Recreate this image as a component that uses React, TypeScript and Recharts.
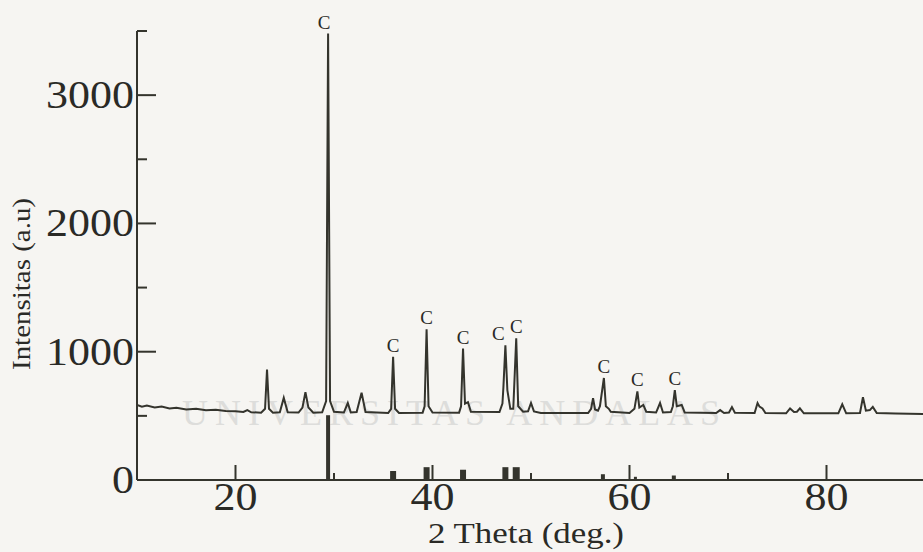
import React from 'react';
import { ComposedChart, Line, XAxis, YAxis, ReferenceLine, ReferenceDot, Label } from 'recharts';

// XRD trace (2θ in degrees, intensity in a.u.)
const twoTheta = [
  10.0, 10.5, 11.0, 11.8, 12.5, 13.3, 14.0, 15.0, 16.0, 17.0, 18.0, 19.0, 20.0, 20.8, 21.2, 21.6,
  22.6, 23.0, 23.2, 23.4, 23.8, 24.5, 24.9, 25.3, 26.4, 26.8, 27.1, 27.4, 27.9, 28.8, 29.2, 29.4,
  29.6, 30.0, 31.0, 31.4, 31.7, 32.3, 32.8, 33.2, 35.5, 35.8, 36.0, 36.2, 36.6, 39.0, 39.2, 39.4,
  39.6, 40.0, 42.7, 42.9, 43.1, 43.3, 43.6, 43.9, 46.8, 47.1, 47.2, 47.4, 47.6, 47.9, 48.2, 48.5,
  48.7, 49.2, 49.7, 50.0, 50.3, 51.0, 55.8, 56.1, 56.3, 56.5, 56.8, 57.0, 57.4, 57.6, 57.9, 58.1,
  60.0, 60.5, 60.8, 61.0, 61.4, 61.7, 62.7, 63.1, 63.4, 64.2, 64.4, 64.6, 64.8, 65.3, 65.6, 68.8,
  69.2, 69.6, 70.1, 70.4, 70.7, 72.7, 73.0, 73.2, 73.5, 73.8, 75.9, 76.3, 76.7, 77.0, 77.3, 77.7,
  81.2, 81.6, 82.0, 83.4, 83.7, 84.0, 84.4, 84.7, 85.1, 87.0, 90.0,
];
const intensity = [
  585, 572, 580, 566, 572, 558, 564, 550, 555, 543, 547, 537, 535, 530, 545, 528,
  525, 555, 860, 555, 525, 528, 640, 528, 526, 565, 685, 565, 525, 528, 615, 3480,
  615, 532, 526, 600, 527, 530, 680, 530, 522, 555, 960, 555, 522, 525, 575, 1175,
  575, 526, 525, 575, 1025, 595, 607, 532, 530, 595, 725, 1050, 700, 555, 555, 1105,
  575, 532, 535, 600, 535, 522, 522, 555, 638, 550, 540, 575, 795, 575, 555, 532,
  522, 555, 690, 565, 585, 532, 526, 600, 526, 530, 575, 700, 575, 585, 527, 522,
  545, 522, 526, 568, 524, 522, 600, 572, 558, 522, 520, 558, 530, 532, 558, 520,
  520, 590, 520, 522, 645, 540, 545, 570, 522, 518, 515,
];

// Reference (stick) pattern
const stickPos = [29.4, 36.0, 39.4, 43.1, 47.4, 48.5, 57.3, 60.6, 64.5];
const stickHeight = [505, 70, 100, 80, 100, 100, 45, 25, 35];

// Peaks marked "C"
const cPeakPos = [29.4, 36.0, 39.4, 43.1, 47.4, 48.5, 57.4, 60.8, 64.6];
const cPeakHeight = [3480, 960, 1175, 1025, 1050, 1105, 795, 690, 700];

// Axes
const yTicks = [0, 500, 1000, 1500, 2000, 2500, 3000, 3500];
const yTickLabels = ['0', '', '1000', '', '2000', '', '3000', ''];
const xTicks = [20, 30, 40, 50, 60, 70, 80];
const xTickLabels = ['20', '', '40', '', '60', '', '80'];

const data = twoTheta.map((x, i) => ({ x, y: intensity[i] }));

const INK = '#34342d';
const SERIF = '"Liberation Serif", "Times New Roman", serif';
const STICK_W = [4, 6, 6, 6, 6, 7, 4, 3, 4];
const C_DX = [-4, 0, 0, 0, -7, 0, 0, 0, 0];

const YTick = (props: any) => {
  const { x, y, payload } = props;
  const v = payload.value;
  const idx = yTicks.indexOf(v);
  const label = yTickLabels[idx] || '';
  const major = v % 1000 === 0;
  return (
    <g>
      {v !== 0 && (
        <line x1={x} x2={x + (major ? 19 : 10)} y1={y} y2={y} stroke={INK} strokeWidth={2} />
      )}
      {label && (
        <text
          x={x - 3}
          y={y + 13}
          textAnchor="end"
          fontFamily={SERIF}
          fontSize={39}
          fill="#2a2a26"
          textLength={label.length * 22}
          lengthAdjust="spacingAndGlyphs"
        >
          {label}
        </text>
      )}
    </g>
  );
};

const XTick = (props: any) => {
  const { x, y, payload } = props;
  const v = payload.value;
  const idx = xTicks.indexOf(v);
  const label = xTickLabels[idx] || '';
  const major = v % 20 === 0;
  return (
    <g>
      <line x1={x} x2={x} y1={y} y2={y - (major ? 15 : 7)} stroke={INK} strokeWidth={2} />
      {label && (
        <text
          x={x}
          y={y + 30}
          textAnchor="middle"
          fontFamily={SERIF}
          fontSize={39}
          fill="#2a2a26"
          textLength={label.length * 22}
          lengthAdjust="spacingAndGlyphs"
        >
          {label}
        </text>
      )}
    </g>
  );
};

const renderXLabel = () => (
  <text
    x={526}
    y={543}
    textAnchor="middle"
    fontFamily={SERIF}
    fontSize={29}
    fill="#2a2a26"
    textLength={196}
    lengthAdjust="spacingAndGlyphs"
  >
    2 Theta (deg.)
  </text>
);

const renderYLabel = () => (
  <text
    x={30}
    y={284}
    transform="rotate(-90, 30, 284)"
    textAnchor="middle"
    fontFamily={SERIF}
    fontSize={25}
    fill="#2a2a26"
    textLength={172}
    lengthAdjust="spacingAndGlyphs"
  >
    Intensitas (a.u)
  </text>
);

export default function App() {
  return (
    <div
      style={{
        position: 'absolute',
        left: 0,
        top: 0,
        width: 923,
        height: 552,
        overflow: 'hidden',
        background: '#f6f5f2',
      }}
    >
      <div
        style={{
          position: 'absolute',
          left: 182,
          top: 399,
          fontFamily: SERIF,
          fontSize: 36,
          lineHeight: '28px',
          height: 28,
          letterSpacing: 7,
          color: '#dddddb',
          whiteSpace: 'nowrap',
        }}
      >
        UNIVERSITAS ANDALAS
      </div>
      <div style={{ position: 'absolute', left: 0, top: 0 }}>
        <ComposedChart
          width={930}
          height={552}
          data={data}
          margin={{ top: 31, right: 5, bottom: 0, left: 0 }}
        >
          <XAxis
            type="number"
            dataKey="x"
            domain={[10, 90]}
            ticks={xTicks}
            interval={0}
            tickSize={0}
            tickMargin={0}
            tickLine={false}
            axisLine={{ stroke: INK, strokeWidth: 2 }}
            height={72}
            tick={XTick}
            allowDataOverflow
            label={<Label content={renderXLabel} />}
          />
          <YAxis
            type="number"
            domain={[0, 3500]}
            ticks={yTicks}
            interval={0}
            tickSize={0}
            tickMargin={0}
            tickLine={false}
            axisLine={{ stroke: INK, strokeWidth: 2 }}
            width={137}
            tick={YTick}
            allowDataOverflow
            label={<Label content={renderYLabel} />}
          />
          {stickPos.map((p, i) => (
            <ReferenceLine
              key={'s' + i}
              segment={[
                { x: p, y: 0 },
                { x: p, y: stickHeight[i] },
              ]}
              stroke={INK}
              strokeWidth={STICK_W[i]}
              ifOverflow="visible"
            />
          ))}
          <Line
            type="linear"
            dataKey="y"
            stroke={INK}
            strokeWidth={2}
            dot={false}
            isAnimationActive={false}
          />
          {cPeakPos.map((p, i) => (
            <ReferenceDot
              key={'c' + i}
              x={p}
              y={cPeakHeight[i]}
              r={1}
              fill="none"
              stroke="none"
              ifOverflow="visible"
              label={
                <Label
                  content={(lp: any) => {
                    const vb = lp.viewBox || {};
                    const cx = (vb.x || 0) + (vb.width || 0) / 2;
                    const cy = (vb.y || 0) + (vb.height || 0) / 2;
                    return (
                      <text
                        x={cx + C_DX[i]}
                        y={cy - 5}
                        textAnchor="middle"
                        fontFamily={SERIF}
                        fontSize={19}
                        fill="#2a2a26"
                      >
                        C
                      </text>
                    );
                  }}
                />
              }
            />
          ))}
        </ComposedChart>
      </div>
    </div>
  );
}
